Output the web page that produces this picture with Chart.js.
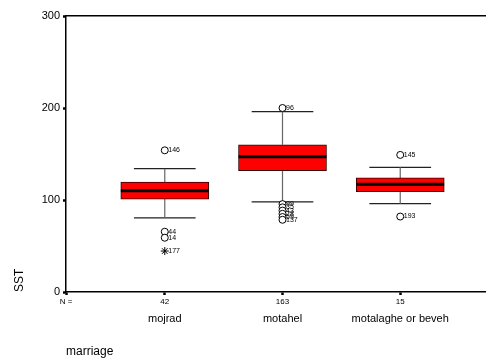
<!DOCTYPE html>
<html>
<head>
  <title>SST by marriage</title>
  <script src="https://cdn.jsdelivr.net/npm/chart.js"></script>
  <style>
    html, body { margin: 0; padding: 0; background: #fff; }
    #wrap { width: 490px; height: 358px; }
  </style>
</head>
<body>
  <div id="wrap"><canvas id="box"></canvas></div>

  <script>
    // data
    const categories = ['mojrad', 'motahel', 'motalaghe or beveh'];
    const counts = [42, 163, 15];
    const q1 = [101, 132, 109];
    const q3 = [119.6, 160, 124];
    const medians = [110, 147, 117];
    const whiskLo = [80.5, 98, 96];
    const whiskHi = [134, 196, 135.5];

    // outliers: category position, value, case label
    const outCat = [1, 1, 1, 2, 2, 2, 2, 2, 2, 2, 3, 3];
    const outVal = [154, 65.5, 59, 200, 95.5, 92, 88.5, 85, 81.5, 78.5, 149, 82];
    const outLabel = ['146', '44', '14', '96', '99', '35', '43', '28', '59', '137', '145', '193'];
    const extCat = [1];
    const extVal = [44.5];
    const extLabel = ['177'];

    const xMin = 0.161, xMax = 3.72;
    const FONT = 'Liberation Sans, Arial, sans-serif';

    const pos = categories.map((c, i) => i + 1);

    function segments(makePts) {
      const out = [];
      pos.forEach((x, i) => {
        makePts(x, i).forEach(p => out.push(p));
        out.push({ x: x, y: null });
      });
      return out;
    }

    const whiskerLines = segments((x, i) => [{ x, y: whiskLo[i] }, { x, y: q1[i] }, { x, y: null }, { x, y: q3[i] }, { x, y: whiskHi[i] }]);
    const capLines = segments((x, i) => [{ x: x - 0.262, y: whiskLo[i] }, { x: x + 0.262, y: whiskLo[i] }, { x, y: null },
                                         { x: x - 0.262, y: whiskHi[i] }, { x: x + 0.262, y: whiskHi[i] }]);
    const medianLines = segments((x, i) => [{ x: x - 0.373, y: medians[i] }, { x: x + 0.373, y: medians[i] }]);

    const caseLabels = {
      id: 'caseLabels',
      afterDatasetsDraw(chart) {
        const ctx = chart.ctx;
        ctx.save();
        ctx.font = '7px ' + FONT;
        ctx.fillStyle = '#000';
        ctx.textBaseline = 'middle';
        chart.data.datasets.forEach((ds, di) => {
          if (!ds.caseNames) return;
          chart.getDatasetMeta(di).data.forEach((pt, j) => {
            ctx.fillText(ds.caseNames[j], pt.x + 3.5, pt.y);
          });
        });
        ctx.restore();
      }
    };

    new Chart(document.getElementById('box'), {
      type: 'bar',
      data: {
        datasets: [
          {
            type: 'line', data: medianLines, borderColor: '#000', borderWidth: 3,
            pointRadius: 0, order: 1
          },
          {
            type: 'bar', data: pos.map((x, i) => ({ x, y: [q1[i], q3[i]] })),
            backgroundColor: '#ff0000', borderColor: '#3a0000', borderWidth: 1,
            borderSkipped: false, barThickness: 88, order: 2
          },
          {
            type: 'line', data: whiskerLines, borderColor: '#666', borderWidth: 1.2,
            pointRadius: 0, order: 3
          },
          {
            type: 'line', data: capLines, borderColor: '#222', borderWidth: 1.2,
            pointRadius: 0, order: 3
          },
          {
            type: 'scatter', data: outCat.map((x, i) => ({ x, y: outVal[i] })),
            caseNames: outLabel, pointStyle: 'circle', pointRadius: 3.5,
            pointBackgroundColor: '#fff', pointBorderColor: '#000', pointBorderWidth: 1, order: 0
          },
          {
            type: 'scatter', data: extCat.map((x, i) => ({ x, y: extVal[i] })),
            caseNames: extLabel, pointStyle: 'star', pointRadius: 4,
            pointBorderColor: '#000', pointBorderWidth: 1, order: 0
          }
        ]
      },
      options: {
        responsive: true,
        maintainAspectRatio: false,
        animation: false,
        layout: { padding: { top: 16, left: 0, right: 0, bottom: 0 } },
        plugins: { legend: { display: false }, tooltip: { enabled: false } },
        scales: {
          x: {
            type: 'linear', position: 'bottom', min: xMin, max: xMax, weight: 0, offset: false,
            afterBuildTicks: s => { s.ticks = [xMin].concat(pos).map(v => ({ value: v })); },
            afterFit: s => { s.height = 12; },
            ticks: {
              autoSkip: false, maxRotation: 0, padding: 2,
              font: { family: FONT, size: 8 }, color: '#000',
              callback: (v, i) => (i === 0 ? 'N =' : String(counts[i - 1]))
            },
            grid: { drawOnChartArea: false, offset: false, tickLength: 3, tickWidth: 2.5, color: '#000' },
            border: { color: '#000', width: 1.5 }
          },
          xName: {
            type: 'linear', position: 'bottom', min: xMin, max: xMax, weight: 1, offset: false,
            afterBuildTicks: s => { s.ticks = pos.map(v => ({ value: v })); },
            afterFit: s => { s.height = 54; },
            ticks: {
              autoSkip: false, maxRotation: 0, padding: 0,
              font: { family: FONT, size: 11 }, color: '#000',
              callback: (v, i) => categories[i]
            },
            grid: { display: false },
            border: { display: false },
            title: {
              display: true, text: 'marriage', align: 'start', color: '#000',
              font: { family: FONT, size: 12, lineHeight: 1 }, padding: { top: 0, bottom: 0 }
            }
          },
          xTop: {
            type: 'linear', position: 'top', min: xMin, max: xMax, offset: false,
            afterFit: s => { s.height = 0; },
            ticks: { display: false },
            grid: { display: false },
            border: { display: true, color: '#000', width: 1.5 }
          },
          y: {
            min: 0, max: 300,
            afterFit: s => { s.width = 66; },
            ticks: { stepSize: 100, padding: 3, font: { family: FONT, size: 11 }, color: '#000' },
            grid: { drawOnChartArea: false, tickLength: 3, tickWidth: 2.5, color: '#000' },
            border: { color: '#000', width: 1.5 },
            title: {
              display: true, text: 'SST', align: 'start', color: '#000',
              font: { family: FONT, size: 12 }, padding: { top: 12, bottom: 0 }
            }
          }
        }
      },
      plugins: [caseLabels]
    });
  </script>
</body>
</html>
